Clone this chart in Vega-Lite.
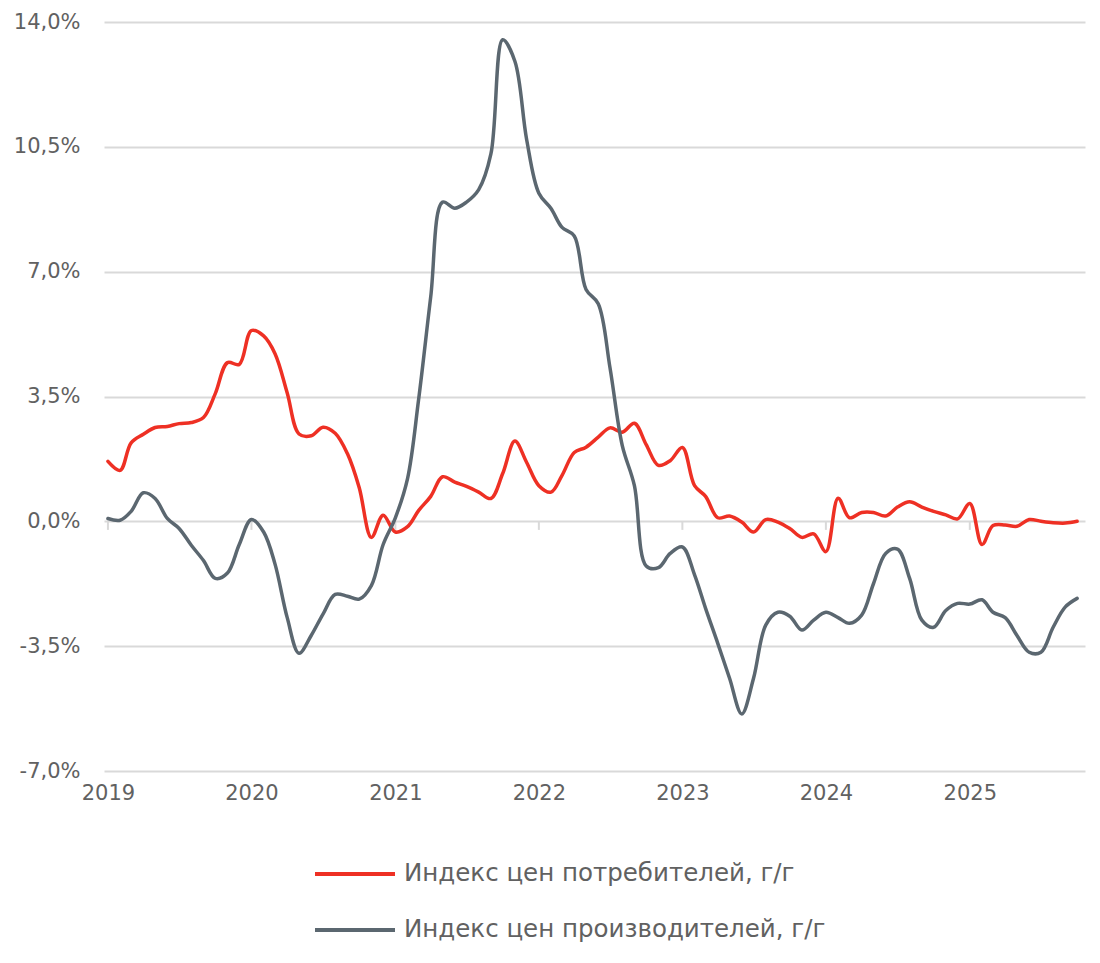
{
  "$schema": "https://vega.github.io/schema/vega-lite/v6.json",
  "width": 981,
  "height": 749,
  "autosize": {"type": "none"},
  "padding": {"left": 104, "top": 22, "right": 15, "bottom": 192},
  "background": "white",
  "config": {
    "view": {"stroke": null},
    "font": "DejaVu Sans",
    "axis": {"labelFont": "DejaVu Sans", "labelColor": "#616161"},
    "legend": {"labelFont": "DejaVu Sans"}
  },
  "datasets": {
    "series": [
      {"date": "2019-01-01", "cpi": 1.68, "ppi": 0.08},
      {"date": "2019-02-01", "cpi": 1.43, "ppi": 0.03},
      {"date": "2019-03-01", "cpi": 2.2, "ppi": 0.28},
      {"date": "2019-04-01", "cpi": 2.44, "ppi": 0.8},
      {"date": "2019-05-01", "cpi": 2.63, "ppi": 0.64},
      {"date": "2019-06-01", "cpi": 2.66, "ppi": 0.08},
      {"date": "2019-07-01", "cpi": 2.74, "ppi": -0.2},
      {"date": "2019-08-01", "cpi": 2.77, "ppi": -0.67},
      {"date": "2019-09-01", "cpi": 2.91, "ppi": -1.1},
      {"date": "2019-10-01", "cpi": 3.58, "ppi": -1.6},
      {"date": "2019-11-01", "cpi": 4.45, "ppi": -1.45},
      {"date": "2019-12-01", "cpi": 4.4, "ppi": -0.65},
      {"date": "2020-01-01", "cpi": 5.35, "ppi": 0.05},
      {"date": "2020-02-01", "cpi": 5.2, "ppi": -0.3},
      {"date": "2020-03-01", "cpi": 4.7, "ppi": -1.2},
      {"date": "2020-04-01", "cpi": 3.6, "ppi": -2.7},
      {"date": "2020-05-01", "cpi": 2.45, "ppi": -3.7},
      {"date": "2020-06-01", "cpi": 2.4, "ppi": -3.2},
      {"date": "2020-07-01", "cpi": 2.64, "ppi": -2.6},
      {"date": "2020-08-01", "cpi": 2.47, "ppi": -2.05},
      {"date": "2020-09-01", "cpi": 1.9, "ppi": -2.1},
      {"date": "2020-10-01", "cpi": 0.95, "ppi": -2.18},
      {"date": "2020-11-01", "cpi": -0.45, "ppi": -1.8},
      {"date": "2020-12-01", "cpi": 0.17, "ppi": -0.65},
      {"date": "2021-01-01", "cpi": -0.3, "ppi": 0.1},
      {"date": "2021-02-01", "cpi": -0.15, "ppi": 1.2},
      {"date": "2021-03-01", "cpi": 0.3, "ppi": 3.4},
      {"date": "2021-04-01", "cpi": 0.7, "ppi": 6.3},
      {"date": "2021-05-01", "cpi": 1.25, "ppi": 8.95},
      {"date": "2021-06-01", "cpi": 1.1, "ppi": 8.78},
      {"date": "2021-07-01", "cpi": 0.98, "ppi": 8.95},
      {"date": "2021-08-01", "cpi": 0.82, "ppi": 9.3},
      {"date": "2021-09-01", "cpi": 0.64, "ppi": 10.3},
      {"date": "2021-10-01", "cpi": 1.34, "ppi": 13.5},
      {"date": "2021-11-01", "cpi": 2.25, "ppi": 12.9},
      {"date": "2021-12-01", "cpi": 1.65, "ppi": 10.7},
      {"date": "2022-01-01", "cpi": 1.0, "ppi": 9.2},
      {"date": "2022-02-01", "cpi": 0.82, "ppi": 8.77},
      {"date": "2022-03-01", "cpi": 1.29, "ppi": 8.24},
      {"date": "2022-04-01", "cpi": 1.93, "ppi": 8.0},
      {"date": "2022-05-01", "cpi": 2.08, "ppi": 6.5},
      {"date": "2022-06-01", "cpi": 2.36, "ppi": 6.1},
      {"date": "2022-07-01", "cpi": 2.62, "ppi": 4.3},
      {"date": "2022-08-01", "cpi": 2.5, "ppi": 2.13},
      {"date": "2022-09-01", "cpi": 2.75, "ppi": 1.0},
      {"date": "2022-10-01", "cpi": 2.15, "ppi": -1.25},
      {"date": "2022-11-01", "cpi": 1.57, "ppi": -1.3},
      {"date": "2022-12-01", "cpi": 1.7, "ppi": -0.9},
      {"date": "2023-01-01", "cpi": 2.07, "ppi": -0.72},
      {"date": "2023-02-01", "cpi": 1.0, "ppi": -1.5},
      {"date": "2023-03-01", "cpi": 0.7, "ppi": -2.44},
      {"date": "2023-04-01", "cpi": 0.1, "ppi": -3.42},
      {"date": "2023-05-01", "cpi": 0.15, "ppi": -4.4},
      {"date": "2023-06-01", "cpi": -0.02, "ppi": -5.4},
      {"date": "2023-07-01", "cpi": -0.3, "ppi": -4.4},
      {"date": "2023-08-01", "cpi": 0.05, "ppi": -2.91},
      {"date": "2023-09-01", "cpi": -0.02, "ppi": -2.55},
      {"date": "2023-10-01", "cpi": -0.2, "ppi": -2.66},
      {"date": "2023-11-01", "cpi": -0.45, "ppi": -3.05},
      {"date": "2023-12-01", "cpi": -0.35, "ppi": -2.77},
      {"date": "2024-01-01", "cpi": -0.85, "ppi": -2.55},
      {"date": "2024-02-01", "cpi": 0.65, "ppi": -2.7},
      {"date": "2024-03-01", "cpi": 0.1, "ppi": -2.86},
      {"date": "2024-04-01", "cpi": 0.25, "ppi": -2.63},
      {"date": "2024-05-01", "cpi": 0.25, "ppi": -1.75},
      {"date": "2024-06-01", "cpi": 0.15, "ppi": -0.9},
      {"date": "2024-07-01", "cpi": 0.4, "ppi": -0.78},
      {"date": "2024-08-01", "cpi": 0.55, "ppi": -1.6},
      {"date": "2024-09-01", "cpi": 0.4, "ppi": -2.77},
      {"date": "2024-10-01", "cpi": 0.28, "ppi": -2.97},
      {"date": "2024-11-01", "cpi": 0.18, "ppi": -2.5},
      {"date": "2024-12-01", "cpi": 0.07, "ppi": -2.3},
      {"date": "2025-01-01", "cpi": 0.5, "ppi": -2.32},
      {"date": "2025-02-01", "cpi": -0.65, "ppi": -2.2},
      {"date": "2025-03-01", "cpi": -0.12, "ppi": -2.55},
      {"date": "2025-04-01", "cpi": -0.1, "ppi": -2.7},
      {"date": "2025-05-01", "cpi": -0.14, "ppi": -3.2},
      {"date": "2025-06-01", "cpi": 0.05, "ppi": -3.67},
      {"date": "2025-07-01", "cpi": 0.0, "ppi": -3.67},
      {"date": "2025-08-01", "cpi": -0.04, "ppi": -2.97},
      {"date": "2025-09-01", "cpi": -0.05, "ppi": -2.4},
      {"date": "2025-10-01", "cpi": 0.0, "ppi": -2.16}
    ],
    "years": [
      {"date": "2019-01-01"}, {"date": "2020-01-01"}, {"date": "2021-01-01"},
      {"date": "2022-01-01"}, {"date": "2023-01-01"}, {"date": "2024-01-01"},
      {"date": "2025-01-01"}
    ]
  },
  "layer": [
    {
      "data": {"name": "years"},
      "mark": {"type": "rule", "color": "#d9d9d9", "strokeWidth": 2},
      "encoding": {
        "x": {"field": "date", "type": "temporal"},
        "y": {"datum": 0, "type": "quantitative"},
        "y2": {"datum": -0.24}
      }
    },
    {
      "data": {"name": "series"},
      "transform": [
        {"fold": ["cpi", "ppi"], "as": ["key", "value"]},
        {"lookup": "key", "from": {"data": {"values": [
          {"key": "cpi", "label": "Индекс цен потребителей, г/г"},
          {"key": "ppi", "label": "Индекс цен производителей, г/г"}
        ]}, "key": "key", "fields": ["label"]}}
      ],
      "mark": {"type": "line", "strokeWidth": 3.5, "interpolate": "catmull-rom", "strokeCap": "round"},
      "encoding": {
        "x": {
          "field": "date", "type": "temporal",
          "scale": {"domain": ["2018-12-22", "2025-10-21"]},
          "axis": {
            "title": null,
            "values": [{"year": 2019}, {"year": 2020}, {"year": 2021}, {"year": 2022}, {"year": 2023}, {"year": 2024}, {"year": 2025}],
            "format": "%Y",
            "grid": false, "domain": false, "ticks": false,
            "labelFontSize": 21, "labelPadding": 11, "labelColor": "#616161"
          }
        },
        "y": {
          "field": "value", "type": "quantitative",
          "scale": {"domain": [-7, 14], "nice": false, "zero": false},
          "axis": {
            "title": null,
            "values": [-7, -3.5, 0, 3.5, 7, 10.5, 14],
            "labelExpr": "replace(replace(format(datum.value, '.1f'), '.', ','), '−', '-') + '%'",
            "grid": true, "gridColor": "#d9d9d9", "gridWidth": 2,
            "domain": false, "ticks": false,
            "labelFontSize": 21, "labelPadding": 24, "labelColor": "#616161"
          }
        },
        "color": {
          "field": "label", "type": "nominal",
          "scale": {
            "domain": ["Индекс цен потребителей, г/г", "Индекс цен производителей, г/г"],
            "range": ["#ee3024", "#5b6770"]
          },
          "legend": {
            "title": null,
            "orient": "none",
            "legendX": 209,
            "legendY": 810,
            "direction": "vertical",
            "symbolType": "stroke",
            "symbolSize": 6400,
            "symbolStrokeWidth": 4,
            "labelFontSize": 24.5,
            "labelColor": "#616161",
            "labelOffset": 7,
            "labelLimit": 0,
            "rowPadding": 2,
            "padding": 0
          }
        }
      }
    }
  ]
}
